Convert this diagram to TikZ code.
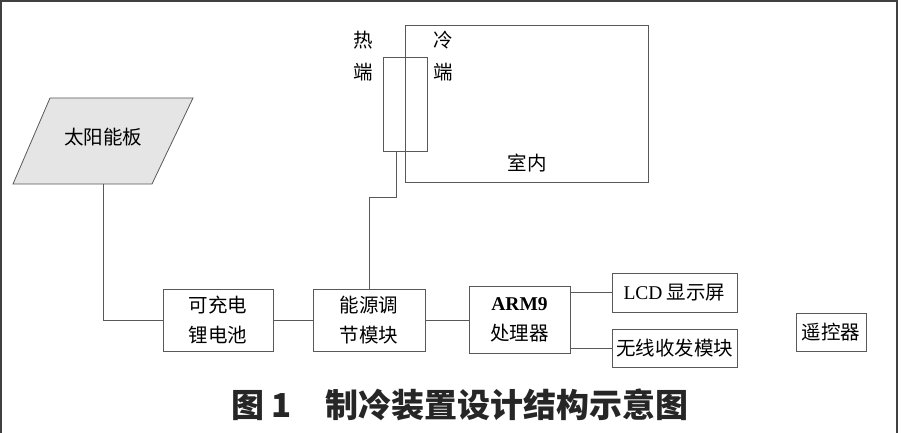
\documentclass[tikz,border=0pt]{standalone}
\usepackage{fontspec}
\setmainfont{Liberation Serif}
\newfontfamily\cjk{Noto Sans CJK SC}
\newfontfamily\lat{Liberation Serif}
\usetikzlibrary{positioning}
\colorlet{wire}{black!65}
\begin{document}
\begin{tikzpicture}[x=1pt,y=-1pt,line width=0.8pt,
	blk/.style={draw=wire,inner sep=0pt,align=center,font=\cjk\fontsize{19.5}{30}\selectfont},
	tag/.style={inner sep=0pt,align=center,font=\cjk\fontsize{19.5}{32}\selectfont}]

	\useasboundingbox (0,0) rectangle (901,433);
	\draw[black!75,line width=1.6pt] (1,433) -- (1,1) -- (897,1) -- (897,433);

	% solar panel
	\draw[wire,fill=black!10] (50,98) -- (193,98) -- (152,184) -- (13,184) -- cycle;
	\node[tag] (panel) at (103,137) {太阳能板};
	\coordinate (panelfoot) at (103,184);

	% room and peltier
	\node[blk, minimum width=243pt, minimum height=157pt] (room) at (526.5,103.5) {};
	\node[tag] (inside) at (527,163) {室内};
	\node[blk, minimum width=44pt, minimum height=94pt] (peltier) at (405,104) {};
	\node[tag] (hot) at (363,56) {热\\端};
	\node[tag] (cold) at (443,56) {冷\\端};

	% bottom row
	\node[blk, minimum width=110pt, minimum height=62pt] (bat) at (218,320) {可充电\\锂电池};
	\node[blk, minimum width=112pt, minimum height=62pt] (energy) [right of=bat, node distance=151pt] {能源调\\节模块};
	\node[blk, minimum width=101pt, minimum height=67pt] (arm) [right of=energy, node distance=150.5pt] {{\lat\bfseries ARM9}\\处理器};
	\node[blk, minimum width=125pt, minimum height=39pt] (lcd) at (674.5,292.5) {{\lat LCD} 显示屏};
	\node[blk, minimum width=125pt, minimum height=38pt] (radio) at (674.5,348) {无线收发模块};
	\node[blk, minimum width=70pt, minimum height=38pt] (remote) at (831,332) {遥控器};

	\draw[wire] (panelfoot) |- (bat);
	\draw[wire] (bat) -- (energy);
	\draw[wire] (energy) -- (arm);
	\draw[wire] (arm.east |- lcd) -- (lcd);
	\draw[wire] (arm.east |- radio) -- (radio);
	\draw[wire] ([xshift=-9pt]peltier.south) -- ++(0,46) -| (energy);

	\node[anchor=west, inner sep=0pt, text=black!85, font=\cjk\bfseries\fontsize{33}{33}\selectfont] (caption) at (231,405) {图 1　制冷装置设计结构示意图};

\end{tikzpicture}
\end{document}
